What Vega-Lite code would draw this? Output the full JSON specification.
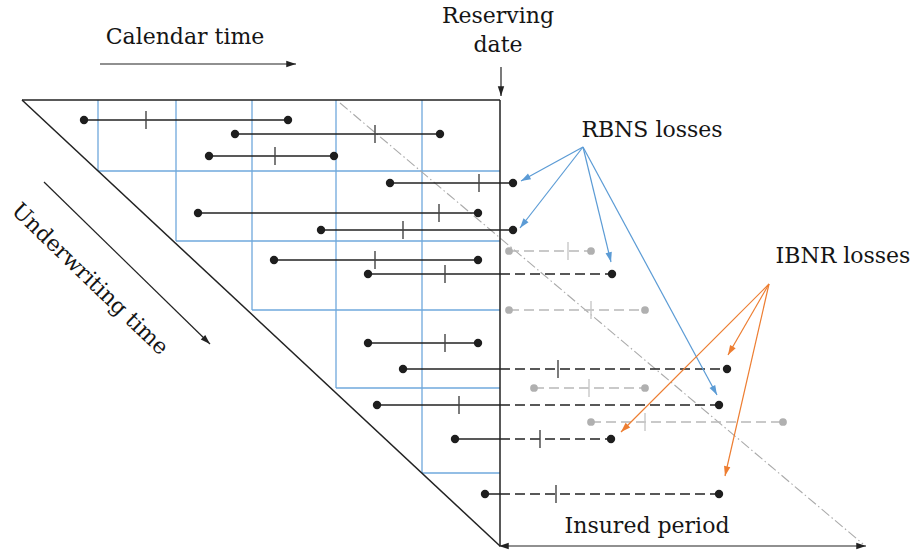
{
  "$schema": "https://vega.github.io/schema/vega-lite/v6.json",
  "width": 918,
  "height": 553,
  "padding": 0,
  "autosize": {"type": "none"},
  "background": "white",
  "config": {"view": {"stroke": null}},
  "datasets": {
    "grid": [
      {"x": 98, "y": 100, "x2": 98, "y2": 171},
      {"x": 176, "y": 100, "x2": 176, "y2": 241},
      {"x": 252, "y": 100, "x2": 252, "y2": 310},
      {"x": 336, "y": 100, "x2": 336, "y2": 388},
      {"x": 422, "y": 100, "x2": 422, "y2": 473},
      {"x": 98, "y": 171, "x2": 500, "y2": 171},
      {"x": 176, "y": 241, "x2": 500, "y2": 241},
      {"x": 252, "y": 310, "x2": 500, "y2": 310},
      {"x": 336, "y": 388, "x2": 500, "y2": 388},
      {"x": 422, "y": 473, "x2": 500, "y2": 473}
    ],
    "frame": [
      {"x": 22, "y": 100, "x2": 500, "y2": 100},
      {"x": 22, "y": 100, "x2": 500, "y2": 546},
      {"x": 500, "y": 100, "x2": 500, "y2": 546}
    ],
    "refline": [{"x": 340, "y": 103, "x2": 863, "y2": 544}],
    "losses": [
      {"y": 120, "occ": 84, "rep": 146, "settle": 288, "status": "closed"},
      {"y": 134, "occ": 235, "rep": 375, "settle": 440, "status": "closed"},
      {"y": 156, "occ": 209, "rep": 275, "settle": 334, "status": "closed"},
      {"y": 183, "occ": 390, "rep": 479, "settle": 513, "status": "open"},
      {"y": 213, "occ": 198, "rep": 439, "settle": 478, "status": "closed"},
      {"y": 230, "occ": 321, "rep": 403, "settle": 513, "status": "open"},
      {"y": 251, "occ": 509, "rep": 568, "settle": 591, "status": "future"},
      {"y": 260, "occ": 274, "rep": 375, "settle": 478, "status": "closed"},
      {"y": 274, "occ": 368, "rep": 445, "settle": 612, "status": "open"},
      {"y": 310, "occ": 509, "rep": 591, "settle": 645, "status": "future"},
      {"y": 343, "occ": 368, "rep": 445, "settle": 478, "status": "closed"},
      {"y": 369, "occ": 403, "rep": 558, "settle": 727, "status": "open"},
      {"y": 388, "occ": 534, "rep": 589, "settle": 645, "status": "future"},
      {"y": 405, "occ": 377, "rep": 459, "settle": 719, "status": "open"},
      {"y": 422, "occ": 591, "rep": 645, "settle": 783, "status": "future"},
      {"y": 439, "occ": 455, "rep": 540, "settle": 611, "status": "open"},
      {"y": 494, "occ": 485, "rep": 556, "settle": 719, "status": "open"}
    ],
    "arrows": [
      {"g": "guide", "x": 100, "y": 64, "x2": 296, "y2": 64},
      {"g": "guide", "x": 501, "y": 67, "x2": 501, "y2": 96},
      {"g": "guide", "x": 44, "y": 182, "x2": 210, "y2": 344},
      {"g": "guide", "x": 682, "y": 546, "x2": 866, "y2": 546},
      {"g": "guide", "x": 682, "y": 546, "x2": 499, "y2": 546},
      {"g": "rbns", "x": 583, "y": 147, "x2": 521, "y2": 181},
      {"g": "rbns", "x": 583, "y": 147, "x2": 520, "y2": 228},
      {"g": "rbns", "x": 583, "y": 147, "x2": 611, "y2": 262},
      {"g": "rbns", "x": 583, "y": 147, "x2": 717, "y2": 395},
      {"g": "ibnr", "x": 769, "y": 284, "x2": 728, "y2": 355},
      {"g": "ibnr", "x": 769, "y": 284, "x2": 621, "y2": 432},
      {"g": "ibnr", "x": 769, "y": 284, "x2": 725, "y2": 476}
    ],
    "labels": [
      {"t": "Calendar time", "x": 185, "y": 44},
      {"t": "Reserving", "x": 498, "y": 23},
      {"t": "date", "x": 498, "y": 52},
      {"t": "RBNS losses", "x": 652, "y": 137},
      {"t": "IBNR losses", "x": 843, "y": 263},
      {"t": "Insured period", "x": 647, "y": 533}
    ],
    "rotlabels": [
      {"t": "Underwriting time", "x": 90, "y": 279}
    ]
  },
  "layer": [
    {
      "data": {"name": "grid"},
      "mark": {"type": "rule", "color": "#6fa8dc", "strokeWidth": 1.3},
      "encoding": {
        "x": {"field": "x", "type": "quantitative", "scale": {"domain": [0, 918], "nice": false, "zero": false}, "axis": null},
        "y": {"field": "y", "type": "quantitative", "scale": {"domain": [0, 553], "nice": false, "zero": false, "reverse": true}, "axis": null},
        "x2": {"field": "x2"},
        "y2": {"field": "y2"}
      }
    },
    {
      "data": {"name": "refline"},
      "mark": {"type": "rule", "color": "#aaaaaa", "strokeWidth": 1.1, "strokeDash": [10, 3, 1.5, 3]},
      "encoding": {
        "x": {"field": "x", "type": "quantitative"},
        "y": {"field": "y", "type": "quantitative"},
        "x2": {"field": "x2"},
        "y2": {"field": "y2"}
      }
    },
    {
      "data": {"name": "frame"},
      "mark": {"type": "rule", "color": "#222222", "strokeWidth": 1.5},
      "encoding": {
        "x": {"field": "x", "type": "quantitative"},
        "y": {"field": "y", "type": "quantitative"},
        "x2": {"field": "x2"},
        "y2": {"field": "y2"}
      }
    },
    {
      "data": {"name": "losses"},
      "transform": [
        {"filter": "datum.status != 'future'"},
        {"calculate": "min(datum.settle, 500)", "as": "solidEnd"}
      ],
      "mark": {"type": "rule", "color": "#222222", "strokeWidth": 1.5},
      "encoding": {
        "x": {"field": "occ", "type": "quantitative"},
        "x2": {"field": "solidEnd"},
        "y": {"field": "y", "type": "quantitative"}
      }
    },
    {
      "data": {"name": "losses"},
      "transform": [
        {"filter": "datum.status == 'open'"},
        {"calculate": "min(datum.settle, 500)", "as": "solidEnd"}
      ],
      "mark": {"type": "rule", "color": "#222222", "strokeWidth": 1.5, "strokeDash": [10, 5]},
      "encoding": {
        "x": {"field": "solidEnd", "type": "quantitative"},
        "x2": {"field": "settle"},
        "y": {"field": "y", "type": "quantitative"}
      }
    },
    {
      "data": {"name": "losses"},
      "transform": [{"filter": "datum.status == 'future'"}],
      "mark": {"type": "rule", "color": "#b8b8b8", "strokeWidth": 1.5, "strokeDash": [10, 5]},
      "encoding": {
        "x": {"field": "occ", "type": "quantitative"},
        "x2": {"field": "settle"},
        "y": {"field": "y", "type": "quantitative"}
      }
    },
    {
      "data": {"name": "losses"},
      "transform": [{"filter": "datum.status != 'future'"}],
      "mark": {"type": "tick", "orient": "vertical", "color": "#444444", "size": 18, "thickness": 1.4, "opacity": 1},
      "encoding": {
        "x": {"field": "rep", "type": "quantitative"},
        "y": {"field": "y", "type": "quantitative"}
      }
    },
    {
      "data": {"name": "losses"},
      "transform": [{"filter": "datum.status == 'future'"}],
      "mark": {"type": "tick", "orient": "vertical", "color": "#c8c8c8", "size": 18, "thickness": 1.4, "opacity": 1},
      "encoding": {
        "x": {"field": "rep", "type": "quantitative"},
        "y": {"field": "y", "type": "quantitative"}
      }
    },
    {
      "data": {"name": "losses"},
      "transform": [
        {"filter": "datum.status != 'future'"},
        {"fold": ["occ", "settle"], "as": ["end", "pos"]}
      ],
      "mark": {"type": "point", "filled": true, "color": "#1e1e1e", "size": 70, "opacity": 1},
      "encoding": {
        "x": {"field": "pos", "type": "quantitative"},
        "y": {"field": "y", "type": "quantitative"}
      }
    },
    {
      "data": {"name": "losses"},
      "transform": [
        {"filter": "datum.status == 'future'"},
        {"fold": ["occ", "settle"], "as": ["end", "pos"]}
      ],
      "mark": {"type": "point", "filled": true, "color": "#b0b0b0", "size": 60, "opacity": 1},
      "encoding": {
        "x": {"field": "pos", "type": "quantitative"},
        "y": {"field": "y", "type": "quantitative"}
      }
    },
    {
      "data": {"name": "arrows"},
      "mark": {"type": "rule", "strokeWidth": 1.2},
      "encoding": {
        "x": {"field": "x", "type": "quantitative"},
        "y": {"field": "y", "type": "quantitative"},
        "x2": {"field": "x2"},
        "y2": {"field": "y2"},
        "color": {"field": "g", "type": "nominal", "scale": {"domain": ["guide", "rbns", "ibnr"], "range": ["#222222", "#5b9bd5", "#ed7d31"]}, "legend": null}
      }
    },
    {
      "data": {"name": "arrows"},
      "transform": [{"calculate": "atan2(datum.x2 - datum.x, datum.y - datum.y2) * 180 / PI", "as": "ang"}],
      "mark": {"type": "point", "shape": "M0,0L-0.33,1L0.33,1Z", "filled": true, "size": 380, "opacity": 1},
      "encoding": {
        "x": {"field": "x2", "type": "quantitative"},
        "y": {"field": "y2", "type": "quantitative"},
        "angle": {"field": "ang", "type": "quantitative", "scale": null},
        "color": {"field": "g", "type": "nominal", "legend": null}
      }
    },
    {
      "data": {"name": "labels"},
      "mark": {"type": "text", "font": "DejaVu Serif", "fontSize": 22, "color": "#151515", "align": "center", "baseline": "alphabetic"},
      "encoding": {
        "x": {"field": "x", "type": "quantitative"},
        "y": {"field": "y", "type": "quantitative"},
        "text": {"field": "t"}
      }
    },
    {
      "data": {"name": "rotlabels"},
      "mark": {"type": "text", "font": "DejaVu Serif", "fontSize": 22, "color": "#151515", "align": "center", "baseline": "middle", "angle": 44},
      "encoding": {
        "x": {"field": "x", "type": "quantitative"},
        "y": {"field": "y", "type": "quantitative"},
        "text": {"field": "t"}
      }
    }
  ]
}
